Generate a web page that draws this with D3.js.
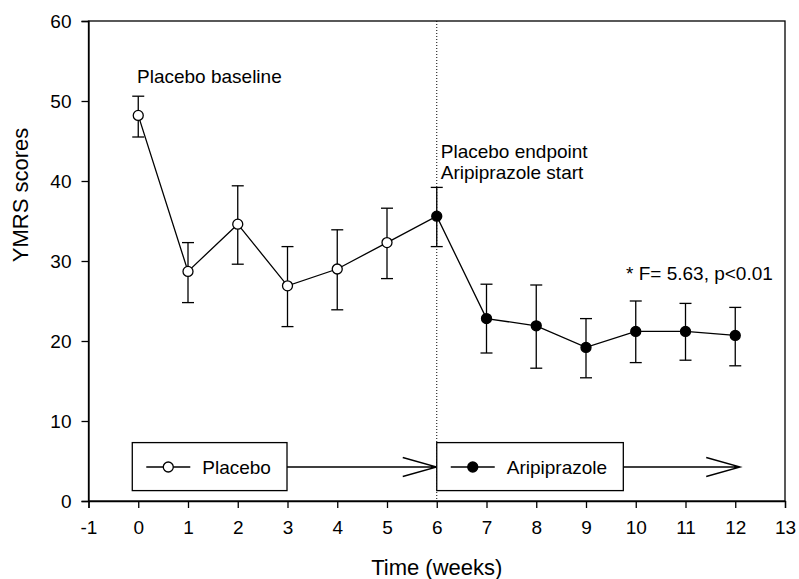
<!DOCTYPE html>
<html>
<head>
<meta charset="utf-8">
<script src="https://cdn.jsdelivr.net/npm/d3@7"></script>
<style>
  body { margin: 0; background: #fff; }
  text { font-family: "Liberation Sans", Arial, sans-serif; fill: #000; }
</style>
</head>
<body>
<div id="chart"></div>
<script>
var w = 799;
var h = 579;

// weekly YMRS means with error bar ends
var weeks = [0, 1, 2, 3, 4, 5, 6, 7, 8, 9, 10, 11, 12];
var means = [48.2, 28.7, 34.6, 26.9, 29.0, 32.3, 35.6, 22.8, 21.9, 19.2, 21.2, 21.2, 20.7];
var upper = [50.6, 32.3, 39.4, 31.8, 33.9, 36.6, 39.2, 27.1, 27.0, 22.8, 25.0, 24.7, 24.2];
var lower = [45.5, 24.8, 29.6, 21.8, 23.9, 27.8, 31.8, 18.5, 16.6, 15.4, 17.3, 17.6, 16.9];
var phase = ["Placebo", "Placebo", "Placebo", "Placebo", "Placebo", "Placebo",
  "Aripiprazole", "Aripiprazole", "Aripiprazole", "Aripiprazole", "Aripiprazole", "Aripiprazole", "Aripiprazole"];

var xTicks = [-1, 0, 1, 2, 3, 4, 5, 6, 7, 8, 9, 10, 11, 12, 13];
var yTicks = [0, 10, 20, 30, 40, 50, 60];

// legend boxes (in axis units) with arrows to the end of each phase
var legendNames = ["Placebo", "Aripiprazole"];
var legendX0 = [-0.12, 6.0];
var legendX1 = [2.99, 9.75];
var arrowEnd = [6.0, 12.1];

var margin = {top: 21, right: 14, bottom: 78, left: 88.5};

var x = d3.scaleLinear().domain([-1, 13]).range([margin.left, w - margin.right]);
var y = d3.scaleLinear().domain([0, 60]).range([h - margin.bottom, margin.top]);

var svg = d3.select("#chart").append("svg")
  .attr("width", w)
  .attr("height", h);

// frame
svg.append("rect")
  .attr("x", x(-1))
  .attr("y", y(60))
  .attr("width", x(13) - x(-1))
  .attr("height", y(0) - y(60))
  .attr("fill", "none")
  .attr("stroke", "#000")
  .attr("stroke-width", 1.3);

// axes (plain hyphen for negative ticks)
var xAxis = svg.append("g")
  .attr("transform", "translate(0," + y(0) + ")")
  .call(d3.axisBottom(x).tickValues(xTicks).tickSize(7).tickPadding(13).tickFormat(d => String(d)));
var yAxis = svg.append("g")
  .attr("transform", "translate(" + x(-1) + ",0)")
  .call(d3.axisLeft(y).tickValues(yTicks).tickSize(7).tickPadding(10).tickFormat(d => String(d)));

[xAxis, yAxis].forEach(function (a) {
  a.select(".domain").attr("stroke", "#000").attr("stroke-width", 1.3);
  a.selectAll(".tick line").attr("stroke", "#000").attr("stroke-width", 1.3);
  a.selectAll(".tick text")
    .attr("font-size", 19)
    .attr("font-family", "Liberation Sans, Arial, sans-serif")
    .attr("fill", "#000");
});

// axis titles
svg.append("text")
  .attr("x", x(6))
  .attr("y", 575)
  .attr("text-anchor", "middle")
  .attr("font-size", 22)
  .text("Time (weeks)");

svg.append("text")
  .attr("transform", "translate(28,195) rotate(-90)")
  .attr("text-anchor", "middle")
  .attr("font-size", 22)
  .text("YMRS scores");

// dotted separator at week 6
svg.append("line")
  .attr("x1", x(6)).attr("x2", x(6))
  .attr("y1", y(60)).attr("y2", y(0))
  .attr("stroke", "#000")
  .attr("stroke-width", 1)
  .attr("stroke-dasharray", "1,2");

var data = weeks.map(function (wk, i) {
  return {week: wk, mean: means[i], hi: upper[i], lo: lower[i], phase: phase[i]};
});

// error bars
var bars = svg.append("g").selectAll("g")
  .data(data)
  .enter()
  .append("g")
  .attr("stroke", "#000")
  .attr("stroke-width", 1.3);

bars.append("line")
  .attr("x1", d => x(d.week)).attr("x2", d => x(d.week))
  .attr("y1", d => y(d.hi)).attr("y2", d => y(d.lo));
bars.append("line")
  .attr("x1", d => x(d.week) - 6).attr("x2", d => x(d.week) + 6)
  .attr("y1", d => y(d.hi)).attr("y2", d => y(d.hi));
bars.append("line")
  .attr("x1", d => x(d.week) - 6).attr("x2", d => x(d.week) + 6)
  .attr("y1", d => y(d.lo)).attr("y2", d => y(d.lo));

// mean line
svg.append("path")
  .datum(data)
  .attr("fill", "none")
  .attr("stroke", "#000")
  .attr("stroke-width", 1.3)
  .attr("d", d3.line().x(d => x(d.week)).y(d => y(d.mean)));

svg.append("g").selectAll("circle")
  .data(data)
  .enter()
  .append("circle")
  .attr("cx", d => x(d.week))
  .attr("cy", d => y(d.mean))
  .attr("r", 5)
  .attr("fill", d => d.phase == "Placebo" ? "#fff" : "#000")
  .attr("stroke", "#000")
  .attr("stroke-width", 1.3);

// annotations
svg.append("text")
  .attr("x", 137).attr("y", 83)
  .attr("font-size", 19)
  .text("Placebo baseline");

svg.append("text")
  .attr("x", x(6) + 4).attr("y", 158)
  .attr("font-size", 19)
  .text("Placebo endpoint");
svg.append("text")
  .attr("x", x(6) + 4).attr("y", 179)
  .attr("font-size", 19)
  .text("Aripiprazole start");

svg.append("text")
  .attr("x", 626).attr("y", 280)
  .attr("font-size", 19)
  .text("* F= 5.63, p<0.01");

// legend boxes with phase arrows
var legY = y(4.25);
legendNames.forEach(function (name, i) {
  var g = svg.append("g");
  var bx0 = x(legendX0[i]), bx1 = x(legendX1[i]);
  g.append("rect")
    .attr("x", bx0).attr("y", y(7.3))
    .attr("width", bx1 - bx0).attr("height", y(1.3) - y(7.3))
    .attr("fill", "#fff")
    .attr("stroke", "#000")
    .attr("stroke-width", 1.3);
  g.append("line")
    .attr("x1", bx0 + 14).attr("x2", bx0 + 58)
    .attr("y1", legY).attr("y2", legY)
    .attr("stroke", "#000").attr("stroke-width", 1.3);
  g.append("circle")
    .attr("cx", bx0 + 36).attr("cy", legY).attr("r", 5)
    .attr("fill", name == "Placebo" ? "#fff" : "#000")
    .attr("stroke", "#000").attr("stroke-width", 1.3);
  g.append("text")
    .attr("x", bx0 + 70).attr("y", legY + 7)
    .attr("font-size", 19)
    .text(name);

  var tip = x(arrowEnd[i]);
  g.append("path")
    .attr("d", "M" + bx1 + "," + legY + "H" + tip +
      "M" + (tip - 34) + "," + (legY - 9.5) + "L" + tip + "," + legY + "L" + (tip - 34) + "," + (legY + 9.5))
    .attr("fill", "none")
    .attr("stroke", "#000")
    .attr("stroke-width", 1.3);
});
</script>
</body>
</html>
